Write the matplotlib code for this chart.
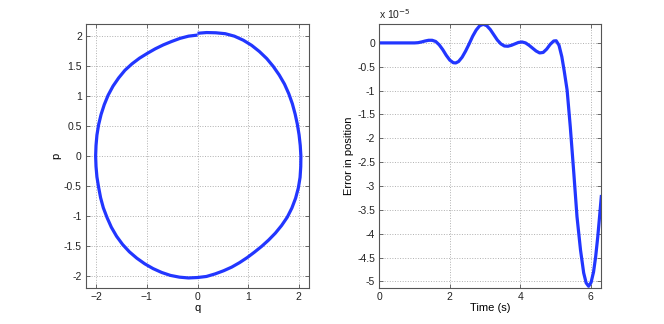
import numpy as np
import matplotlib
matplotlib.use("Agg")
import matplotlib.pyplot as plt
from matplotlib.ticker import FormatStrFormatter

plt.rcParams['font.family'] = ['Liberation Sans', 'DejaVu Sans']
plt.rcParams['font.size'] = 7.5

# ---- phase portrait, read as polar (angle in degrees, radius), clockwise from the top ----
angle_deg = list(range(90, -275, -5))
radius = [2.05, 2.07, 2.09, 2.115, 2.13, 2.135, 2.135, 2.13, 2.125, 2.115,
          2.105, 2.095, 2.08, 2.065, 2.05, 2.04, 2.035, 2.035, 2.04, 2.045,
          2.055, 2.06, 2.06, 2.055, 2.045, 2.025, 2.005, 1.985, 1.97, 1.96,
          1.96, 1.965, 1.975, 1.985, 2.00, 2.02, 2.03, 2.045, 2.055, 2.065,
          2.07, 2.075, 2.08, 2.085, 2.09, 2.09, 2.085, 2.075, 2.06, 2.05,
          2.035, 2.02, 2.015, 2.01, 2.01, 2.01, 2.015, 2.02, 2.025, 2.03,
          2.035, 2.035, 2.03, 2.025, 2.01, 1.995, 1.98, 1.975, 1.975, 1.98,
          1.995, 2.01, 2.02]

# ---- position error (units of 1e-5) vs time ----
t_vals = [0.0, 0.5, 1.0, 1.1, 1.2, 1.3, 1.4, 1.5, 1.6, 1.7, 1.8, 1.9, 2.0, 2.1,
          2.17, 2.25, 2.35, 2.45, 2.55, 2.65, 2.75, 2.85, 2.95, 3.05, 3.15, 3.25,
          3.35, 3.45, 3.55, 3.65, 3.75, 3.85, 3.95, 4.05, 4.15, 4.25, 4.35, 4.45,
          4.55, 4.65, 4.75, 4.85, 4.95, 5.02, 5.1, 5.18, 5.25, 5.33, 5.42, 5.52,
          5.61, 5.71, 5.80, 5.87, 5.94, 6.01, 6.08, 6.14, 6.20, 6.25, 6.30]
err_vals = [0.0, 0.0, 0.0, 0.005, 0.02, 0.04, 0.055, 0.055, 0.03, -0.04, -0.14,
            -0.26, -0.36, -0.415, -0.42, -0.39, -0.30, -0.17, -0.02, 0.14, 0.27,
            0.36, 0.39, 0.36, 0.28, 0.17, 0.06, -0.02, -0.065, -0.07, -0.05, -0.02,
            0.01, 0.02, 0.0, -0.05, -0.11, -0.17, -0.21, -0.20, -0.13, -0.03, 0.04,
            0.045, -0.05, -0.29, -0.60, -0.99, -1.76, -2.73, -3.64, -4.34, -4.82,
            -5.03, -5.10, -5.02, -4.80, -4.48, -4.06, -3.65, -3.22]

q_ticks = [-2, -1, 0, 1, 2]
p_ticks = [-2, -1.5, -1, -0.5, 0, 0.5, 1, 1.5, 2]
t_ticks = [0, 2, 4, 6]
e_ticks = [0, -0.5, -1, -1.5, -2, -2.5, -3, -3.5, -4, -4.5, -5]

theta = np.deg2rad(np.array(angle_deg, dtype=float))
r = np.array(radius)
q_vals = r * np.cos(theta)
p_vals = r * np.sin(theta)
q_vals[0] = 0.0
q_vals[-1] = 0.0

blue = '#2236ff'
spine_c = '#555555'

fig = plt.figure(figsize=(6.64, 3.24), dpi=100)
ax1 = fig.add_axes([86/664, 1-287.7/324, 223/664, 263.4/324])
ax2 = fig.add_axes([379.3/664, 1-287.7/324, 222/664, 263.4/324])

def style(ax):
    ax.grid(True, linestyle=':', color='#b0b0b0', linewidth=0.7)
    ax.set_axisbelow(True)
    for s in ax.spines.values():
        s.set_color(spine_c)
        s.set_linewidth(0.8)
    ax.tick_params(direction='in', top=True, right=True, length=3, width=0.6,
                   color=spine_c, labelcolor='#222222', labelsize=7.5, pad=3)

ax1.plot(q_vals, p_vals, color=blue, lw=2.3, solid_capstyle='butt',
         solid_joinstyle='round')
ax1.set_xlim(-2.2, 2.2)
ax1.set_ylim(-2.2, 2.2)
ax1.set_xticks(q_ticks)
ax1.set_yticks(p_ticks)
ax1.yaxis.set_major_formatter(FormatStrFormatter('%g'))
ax1.set_xlabel('q', fontsize=8, labelpad=1)
ax1.set_ylabel('p', fontsize=8, labelpad=2)
style(ax1)

ax2.plot(t_vals, err_vals, color=blue, lw=2.3, solid_joinstyle='round')
ax2.set_xlim(0, 6.3)
ax2.set_ylim(-5.13, 0.39)
ax2.set_xticks(t_ticks)
ax2.set_yticks(e_ticks)
ax2.yaxis.set_major_formatter(FormatStrFormatter('%g'))
ax2.set_xlabel('Time (s)', fontsize=8, labelpad=1)
ax2.set_ylabel('Error in position', fontsize=8, labelpad=2)
ax2.text(0.0, 1.012, 'x 10$^{-5}$', transform=ax2.transAxes, ha='left', va='bottom',
         fontsize=7.5, color='#222222')
style(ax2)

fig.savefig('out.png', dpi=100)
